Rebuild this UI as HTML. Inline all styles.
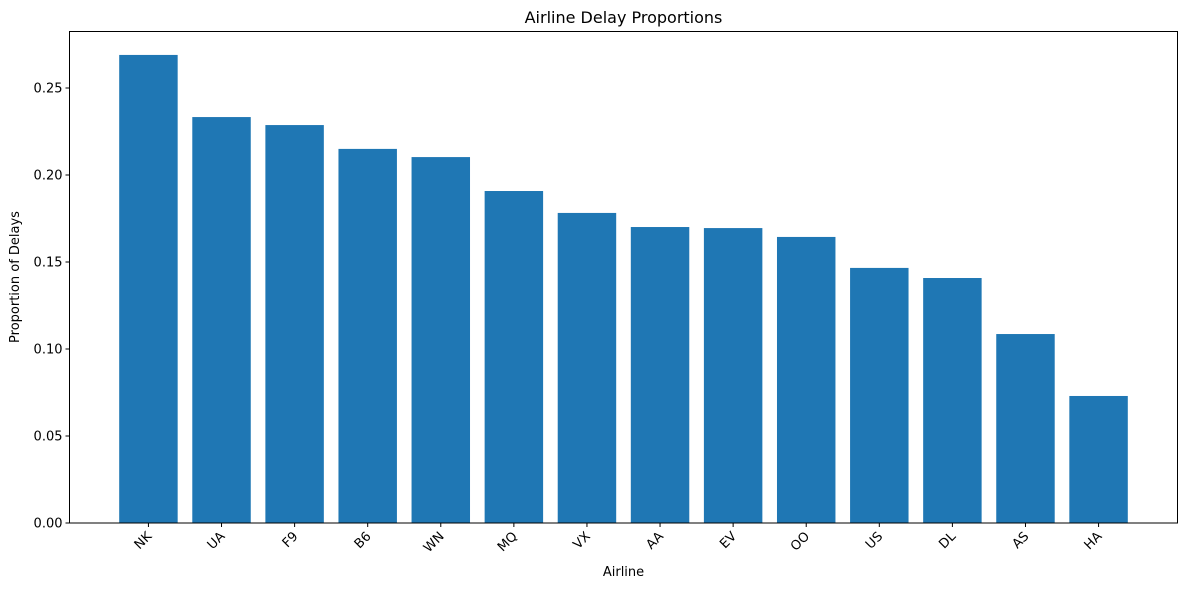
<!DOCTYPE html>
<html><head><meta charset="utf-8"><style>
body{margin:0;background:#fff;}
svg text{font-family:"DejaVu Sans","Liberation Sans",sans-serif;fill:#000;}
</style></head><body>
<svg id="chart" width="1182" height="586" xmlns="http://www.w3.org/2000/svg">
<rect width="1182" height="586" fill="#fff"/>
<text x="623.5" y="23" font-size="16" text-anchor="middle">Airline Delay Proportions</text>
<g id="bars"></g>
<g id="yaxis"></g>
<g id="xaxis"></g>
<rect x="69.5" y="31.5" width="1108" height="491.5" fill="none" stroke="#000" stroke-width="1"/>
<text x="623.5" y="576" font-size="13" text-anchor="middle">Airline</text>
<text transform="translate(19,277) rotate(-90)" font-size="13" text-anchor="middle">Proportion of Delays</text>
</svg>
<script>
const categories=["NK","UA","F9","B6","WN","MQ","VX","AA","EV","OO","US","DL","AS","HA"];
const values=[0.269,0.2333,0.2287,0.215,0.2103,0.1908,0.1782,0.1701,0.1695,0.1644,0.1466,0.1408,0.1086,0.073];
const yTicks=[0,0.05,0.10,0.15,0.20,0.25];
const yTickLabels=["0.00","0.05","0.10","0.15","0.20","0.25"];
(function(){
const NS="http://www.w3.org/2000/svg";
const L=69.5,R=1177.5,B=523,T=31.5;
const xmin=-1.08,xmax=categories.length-1+1.08;
const ymax=(B-T)/1740;
function xs(i){return L+(i-xmin)/(xmax-xmin)*(R-L);}
function ys(v){return B-v/ymax*(B-T);}
const step=xs(1)-xs(0),bw=step*0.8;
const gb=document.getElementById('bars'),gx=document.getElementById('xaxis'),gy=document.getElementById('yaxis');
categories.forEach((c,i)=>{
 const r=document.createElementNS(NS,'rect');
 
 
 r.setAttribute('x',xs(i)-bw/2);r.setAttribute('y',ys(values[i]));
 r.setAttribute('width',bw);r.setAttribute('height',B-ys(values[i]));
 r.setAttribute('fill','#1f77b4');gb.appendChild(r);
 const t=document.createElementNS(NS,'line');
 
 
 t.setAttribute('x1',xs(i));t.setAttribute('x2',xs(i));t.setAttribute('y1',B);t.setAttribute('y2',B+4);
 t.setAttribute('stroke','#000');gx.appendChild(t);
 const l=document.createElementNS(NS,'text');
 
 
 l.setAttribute('font-size','13');l.setAttribute('text-anchor','end');
 l.setAttribute('transform','translate('+(xs(i)+4)+','+(B+14)+') rotate(-45)');
 l.textContent=c;gx.appendChild(l);
});
yTicks.forEach((v,i)=>{
 const t=document.createElementNS(NS,'line');
 
 
 t.setAttribute('x1',L-4);t.setAttribute('x2',L);t.setAttribute('y1',ys(v));t.setAttribute('y2',ys(v));
 t.setAttribute('stroke','#000');gy.appendChild(t);
 const l=document.createElementNS(NS,'text');
 
 
 l.setAttribute('font-size','13');l.setAttribute('text-anchor','end');
 l.setAttribute('x',L-7);l.setAttribute('y',ys(v)+4.5);
 l.textContent=yTickLabels[i];gy.appendChild(l);
});
})();
</script>
</body></html>
